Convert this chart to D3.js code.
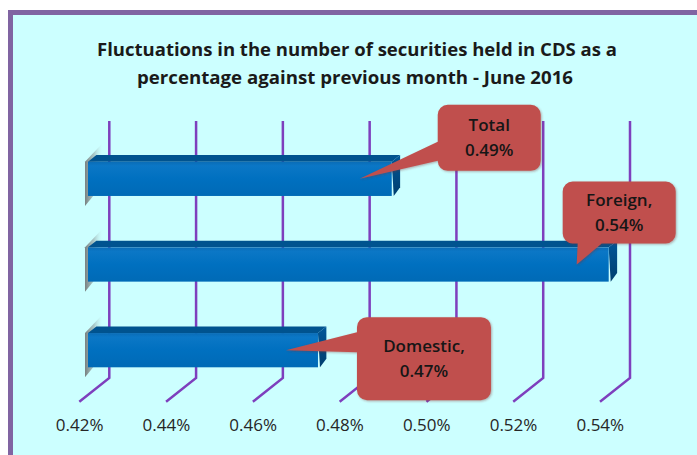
<!DOCTYPE html>
<html>
<head>
<meta charset="utf-8">
<script src="https://cdn.jsdelivr.net/npm/d3@7"></script>
<style>
  body { margin: 0; background: #fff; }
  svg { display: block; }
</style>
</head>
<body>
<div id="chart"></div>
<script>
// Chart data
var titleLines = ["Fluctuations in the number of securities held in CDS as a",
                  "percentage against previous month - June 2016"];
var categories = ["Total", "Foreign", "Domestic"];
var calloutNames = ["Total", "Foreign,", "Domestic,"];
var values = [0.49, 0.54, 0.473];
var tickValues = [0.42, 0.44, 0.46, 0.48, 0.50, 0.52, 0.54];

// Dimensions
var w = 697;
var h = 455;
var depthX = -30;   // floor depth projection
var depthY = 23.7;
var wallTop = 121;
var wallBottom = 378;
var barFront = 0.71; // how far forward the bar front face sits
var barDepth = 0.28;
var font = "'Open Sans', Lato, sans-serif";

// callout boxes, relative to the pointer tip: box [dx, dy, w, h], base of pointer
var callouts = [
  { box: [78, -74, 103, 66], side: "left", base: [37, 56] },
  { box: [-14, -83, 113, 62], side: "bottom", base: [15, 39] },
  { box: [71, -33, 134, 83], side: "left", base: [15, 35] }
];
var titleWidths = [520, 436];

function roundedBoxWithPointer(b, tip, c) {
  var x = b[0], y = b[1], bw = b[2], bh = b[3], r = 10;
  var p = d3.path();
  p.moveTo(x + r, y);
  p.lineTo(x + bw - r, y);
  p.arcTo(x + bw, y, x + bw, y + r, r);
  p.lineTo(x + bw, y + bh - r);
  p.arcTo(x + bw, y + bh, x + bw - r, y + bh, r);
  if (c.side === "bottom") {
    p.lineTo(x + c.base[1], y + bh);
    p.lineTo(tip[0], tip[1]);
    p.lineTo(x + c.base[0], y + bh);
  }
  p.lineTo(x + r, y + bh);
  p.arcTo(x, y + bh, x, y + bh - r, r);
  if (c.side === "left") {
    p.lineTo(x, y + c.base[1]);
    p.lineTo(tip[0], tip[1]);
    p.lineTo(x, y + c.base[0]);
  }
  p.lineTo(x, y + r);
  p.arcTo(x, y, x + r, y, r);
  p.closePath();
  return p.toString();
}

function main() {
  var svg = d3.select("#chart")
    .append("svg")
    .attr("width", w)
    .attr("height", h);

  var defs = svg.append("defs");
  var shadowGrad = defs.append("linearGradient")
    .attr("id", "leftShadow")
    .attr("x1", "0").attr("x2", "1").attr("y1", "0").attr("y2", "0");
  shadowGrad.append("stop").attr("offset", "0").attr("stop-color", "#6a6a6a").attr("stop-opacity", 0.85);
  shadowGrad.append("stop").attr("offset", "0.5").attr("stop-color", "#8d9a9a").attr("stop-opacity", 0.55);
  shadowGrad.append("stop").attr("offset", "1").attr("stop-color", "#ccffff").attr("stop-opacity", 0);

  var sideGrad = defs.append("linearGradient")
    .attr("id", "sideFace")
    .attr("x1", "0").attr("x2", "0").attr("y1", "0").attr("y2", "1");
  sideGrad.append("stop").attr("offset", "0").attr("stop-color", "#005799");
  sideGrad.append("stop").attr("offset", "1").attr("stop-color", "#003e6e");

  var frontGrad = defs.append("linearGradient")
    .attr("id", "frontFace")
    .attr("x1", "0").attr("x2", "0").attr("y1", "0").attr("y2", "1");
  frontGrad.append("stop").attr("offset", "0").attr("stop-color", "#0a6cb6");
  frontGrad.append("stop").attr("offset", "0.12").attr("stop-color", "#0b77c6");
  frontGrad.append("stop").attr("offset", "0.5").attr("stop-color", "#0070c0");
  frontGrad.append("stop").attr("offset", "1").attr("stop-color", "#006ab6");

  var boxShadow = defs.append("filter").attr("id", "boxShadow")
    .attr("x", "-10%").attr("y", "-10%").attr("width", "130%").attr("height", "130%");
  boxShadow.append("feDropShadow")
    .attr("dx", 1).attr("dy", 1).attr("stdDeviation", 1)
    .attr("flood-color", "#7a3030").attr("flood-opacity", 0.4);

  // Background frame
  svg.append("rect")
    .attr("x", 10.5)
    .attr("y", 12.5)
    .attr("width", w + 20)
    .attr("height", h + 20)
    .attr("fill", "#ccffff")
    .attr("stroke", "#8064a2")
    .attr("stroke-width", 5);

  // Title
  svg.selectAll(".title")
    .data(titleLines)
    .enter()
    .append("text")
    .attr("class", "title")
    .attr("x", function(d, i) { return i === 0 ? 357 : 355; })
    .attr("y", function(d, i) { return 56 + i * 28; })
    .attr("text-anchor", "middle")
    .attr("font-family", font)
    .attr("font-weight", "bold")
    .attr("font-size", "17.5px")
    .attr("textLength", function(d, i) { return titleWidths[i]; })
    .attr("lengthAdjust", "spacingAndGlyphs")
    .attr("fill", "#1a1a1a")
    .text(function(d) { return d; });

  // Scales
  var xBack = d3.scaleLinear()
    .domain([0.42, 0.54])
    .range([109.3, 630]);
  var xFront = function(v) { return xBack(v) + depthX * barFront; };

  var yScale = d3.scaleBand()
    .domain(categories)
    .range([136, 393])
    .paddingInner(0.6)
    .paddingOuter(0.3);

  // Back wall gridlines and floor lines
  var grid = svg.append("g").attr("class", "grid");
  grid.selectAll("path")
    .data(tickValues)
    .enter()
    .append("path")
    .attr("d", function(d) {
      var x = xBack(d);
      return "M" + x + "," + wallTop + "L" + x + "," + wallBottom +
             "L" + (x + depthX) + "," + (wallBottom + depthY);
    })
    .attr("fill", "none")
    .attr("stroke", "#7e3fbd")
    .attr("stroke-width", 2.5);

  // Bars
  var dx = -depthX * barDepth;
  var dy = -depthY * barDepth;
  var bars = svg.selectAll(".bar")
    .data(values)
    .enter()
    .append("g")
    .attr("class", "bar");

  // soft shadow behind the left end of each bar
  bars.append("path")
    .attr("d", function(d, i) {
      var x0 = xFront(0.42), y0 = yScale(categories[i]), y1 = y0 + yScale.bandwidth();
      return "M" + (x0 - 3) + "," + y0 + "L" + (x0 + 15) + "," + (y0 - 19) +
             "L" + (x0 + 15) + "," + (y1 - 12) + "L" + (x0 - 3) + "," + (y1 + 10) + "Z";
    })
    .attr("fill", "url(#leftShadow)");

  bars.append("path")
    .attr("d", function(d, i) {
      var x0 = xFront(0.42), x1 = xFront(d), y0 = yScale(categories[i]);
      return "M" + x0 + "," + y0 + "L" + (x0 + dx) + "," + (y0 + dy) +
             "L" + (x1 + dx) + "," + (y0 + dy) + "L" + x1 + "," + y0 + "Z";
    })
    .attr("fill", "#00538f");

  bars.append("path")
    .attr("d", function(d, i) {
      var x1 = xFront(d), y0 = yScale(categories[i]), y1 = y0 + yScale.bandwidth();
      return "M" + x1 + "," + y0 + "L" + (x1 + dx) + "," + (y0 + dy) +
             "L" + (x1 + dx) + "," + (y1 + dy - 2) + "L" + (x1 + 2) + "," + y1 + "Z";
    })
    .attr("fill", "url(#sideFace)");

  bars.append("rect")
    .attr("x", xFront(0.42))
    .attr("y", function(d, i) { return yScale(categories[i]); })
    .attr("width", function(d) { return xFront(d) - xFront(0.42); })
    .attr("height", yScale.bandwidth())
    .attr("fill", "url(#frontFace)");

  // Callouts
  var fmt = d3.format(".2f");
  var notes = svg.selectAll(".callout")
    .data(values)
    .enter()
    .append("g")
    .attr("class", "callout");

  notes.append("path")
    .attr("d", function(d, i) {
      var tip = [xFront(d) - 32, yScale(categories[i]) + yScale.bandwidth() / 2];
      var c = callouts[i];
      var b = [tip[0] + c.box[0], tip[1] + c.box[1], c.box[2], c.box[3]];
      return roundedBoxWithPointer(b, tip, c);
    })
    .attr("fill", "#c0504d")
    .attr("filter", "url(#boxShadow)");

  notes.append("text")
    .attr("text-anchor", "middle")
    .attr("font-family", font)
    .attr("font-weight", 600)
    .attr("font-size", "17px")
    .attr("fill", "#161616")
    .attr("x", function(d, i) {
      var c = callouts[i];
      return xFront(d) - 32 + c.box[0] + c.box[2] / 2;
    })
    .attr("y", function(d, i) {
      var c = callouts[i];
      return yScale(categories[i]) + yScale.bandwidth() / 2 + c.box[1] + c.box[3] / 2 - 7;
    })
    .each(function(d, i) {
      var t = d3.select(this);
      var x = t.attr("x");
      t.append("tspan").attr("x", x).attr("dy", 0).text(calloutNames[i]);
      t.append("tspan").attr("x", x).attr("dy", 25.5).text(fmt(d) + "%");
    });

  // Tick labels along the floor front
  svg.selectAll(".tick-label")
    .data(tickValues)
    .enter()
    .append("text")
    .attr("class", "tick-label")
    .attr("x", function(d) { return xBack(d) + depthX + 0.3; })
    .attr("y", 431)
    .attr("text-anchor", "middle")
    .attr("font-family", font)
    .attr("font-size", "17px")
    .attr("fill", "#262626")
    .text(function(d) { return fmt(d) + "%"; });
}

window.onload = function() {
  main();
};
</script>
</body>
</html>
